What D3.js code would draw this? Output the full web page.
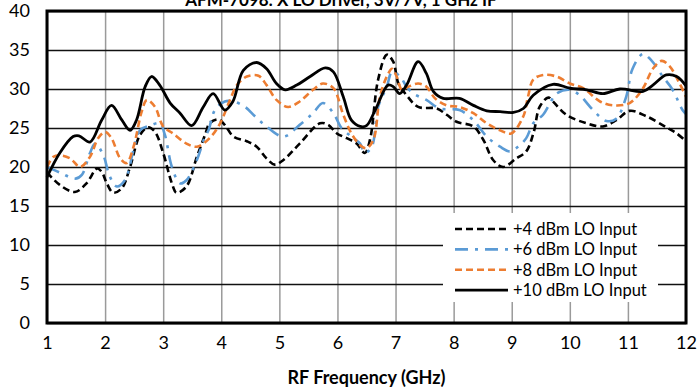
<!DOCTYPE html>
<html>
<head>
<meta charset="utf-8">
<script src="https://cdn.jsdelivr.net/npm/d3@7"></script>
<style>
  body { margin: 0; background: #fff; }
  svg { display: block; font-family: Lato, 'Open Sans', sans-serif; }
</style>
</head>
<body>
<div id="chart"></div>
<script>
// chart data
var title = 'AFM-7098: X LO Driver, 3V/7V, 1 GHz IF';
var xLabel = 'RF Frequency (GHz)';
var xTicks = [1, 2, 3, 4, 5, 6, 7, 8, 9, 10, 11, 12];
var yTicks = [0, 5, 10, 15, 20, 25, 30, 35, 40];

var freq4 = [1.0, 1.22, 1.48, 1.68, 1.86, 1.94, 2.03, 2.14, 2.29, 2.43, 2.6, 2.74, 2.86, 3.0, 3.15, 3.23, 3.4, 3.58, 3.72, 3.8, 3.95, 4.06, 4.21, 4.44, 4.61, 4.78, 4.92, 5.07, 5.35, 5.7, 5.84, 5.99, 6.16, 6.33, 6.47, 6.56, 6.7, 6.85, 6.96, 7.05, 7.19, 7.39, 7.71, 7.88, 8.05, 8.34, 8.51, 8.68, 8.85, 9.08, 9.25, 9.38, 9.48, 9.63, 9.71, 9.94, 10.29, 10.57, 10.8, 11.03, 11.32, 11.66, 11.84, 12.0];
var gain4 = [19.3, 17.7, 16.8, 17.9, 19.8, 19.4, 17.9, 16.7, 17.3, 20.0, 24.1, 25.1, 24.5, 21.8, 17.9, 16.7, 17.5, 21.3, 24.1, 25.6, 26.1, 25.4, 23.9, 23.3, 22.6, 21.1, 20.3, 20.9, 23.0, 25.6, 25.4, 24.3, 23.7, 23.0, 21.8, 23.5, 31.2, 34.4, 33.5, 30.7, 29.2, 27.7, 27.5, 26.7, 25.8, 25.2, 23.5, 20.9, 20.0, 21.1, 22.0, 24.5, 27.7, 28.9, 28.4, 26.7, 25.6, 25.2, 26.0, 27.2, 26.5, 25.1, 24.3, 23.3];

var freq6 = [1.0, 1.25, 1.48, 1.6, 1.74, 1.83, 1.97, 2.08, 2.2, 2.34, 2.49, 2.6, 2.77, 2.94, 3.03, 3.15, 3.29, 3.4, 3.58, 3.72, 3.78, 3.89, 4.06, 4.21, 4.41, 4.58, 4.78, 5.07, 5.35, 5.58, 5.75, 5.93, 6.07, 6.24, 6.39, 6.47, 6.59, 6.7, 6.85, 6.94, 7.08, 7.19, 7.31, 7.53, 7.76, 8.1, 8.34, 8.57, 8.8, 8.97, 9.11, 9.25, 9.37, 9.54, 9.66, 9.77, 10.0, 10.17, 10.4, 10.63, 10.8, 10.97, 11.08, 11.26, 11.4, 11.6, 11.77, 11.94, 12.0];
var gain6 = [20.0, 19.2, 18.5, 19.0, 21.8, 23.0, 21.5, 18.8, 17.5, 18.3, 22.2, 24.7, 25.3, 25.6, 24.1, 20.0, 17.9, 18.3, 20.9, 23.9, 24.7, 27.3, 28.4, 28.4, 27.7, 26.5, 25.2, 23.9, 25.4, 26.9, 28.2, 26.9, 25.0, 23.9, 23.0, 21.8, 22.6, 27.7, 30.3, 32.2, 31.6, 30.3, 29.4, 28.6, 27.5, 27.3, 26.0, 23.9, 22.6, 22.0, 22.6, 23.7, 25.6, 26.7, 28.2, 29.4, 29.9, 29.2, 27.3, 25.9, 26.2, 29.0, 32.6, 34.5, 33.7, 31.6, 29.9, 27.3, 26.8];

var freq8 = [1.0, 1.11, 1.22, 1.4, 1.57, 1.74, 1.88, 2.0, 2.11, 2.26, 2.37, 2.49, 2.63, 2.72, 2.86, 3.0, 3.17, 3.4, 3.58, 3.8, 3.98, 4.15, 4.27, 4.44, 4.64, 4.78, 4.95, 5.15, 5.35, 5.58, 5.75, 5.93, 6.1, 6.24, 6.39, 6.5, 6.62, 6.73, 6.85, 6.94, 7.02, 7.11, 7.22, 7.39, 7.53, 7.68, 7.88, 8.1, 8.34, 8.57, 8.8, 8.99, 9.2, 9.28, 9.37, 9.54, 9.77, 10.0, 10.23, 10.52, 10.75, 11.03, 11.26, 11.43, 11.58, 11.72, 11.89, 12.0];
var gain8 = [20.0, 21.3, 21.5, 21.1, 20.0, 21.3, 23.7, 24.5, 23.7, 21.1, 20.5, 22.6, 27.1, 28.6, 27.7, 25.2, 24.3, 23.0, 22.6, 23.7, 25.6, 28.6, 30.5, 31.6, 31.7, 30.5, 28.6, 27.7, 28.4, 29.9, 30.7, 30.1, 26.7, 24.3, 22.8, 22.4, 23.5, 29.0, 31.6, 32.6, 31.6, 29.9, 30.3, 30.7, 30.3, 28.8, 27.9, 27.7, 26.9, 25.6, 24.7, 24.3, 26.5, 29.0, 31.2, 31.8, 31.6, 30.7, 30.1, 28.4, 27.9, 28.2, 30.1, 32.6, 33.6, 32.9, 30.7, 29.0];

var freq10 = [1.0, 1.22, 1.45, 1.55, 1.74, 1.94, 2.11, 2.29, 2.43, 2.54, 2.69, 2.8, 2.94, 3.12, 3.29, 3.49, 3.69, 3.86, 4.06, 4.2, 4.38, 4.61, 4.78, 4.95, 5.1, 5.3, 5.53, 5.79, 5.93, 6.1, 6.24, 6.39, 6.5, 6.65, 6.87, 6.96, 7.07, 7.19, 7.39, 7.53, 7.65, 7.82, 8.1, 8.34, 8.57, 8.8, 9.03, 9.2, 9.37, 9.71, 10.0, 10.29, 10.57, 10.86, 11.26, 11.43, 11.66, 11.84, 12.0];
var gain10 = [18.7, 21.8, 23.9, 24.0, 23.2, 26.0, 27.9, 26.0, 24.7, 26.0, 30.3, 31.6, 30.5, 28.2, 26.9, 25.3, 27.7, 29.4, 27.3, 28.4, 32.4, 33.4, 32.6, 30.7, 29.9, 30.5, 31.6, 32.7, 32.2, 29.0, 26.0, 25.2, 25.3, 27.3, 30.5, 30.3, 29.4, 30.5, 33.5, 32.0, 29.7, 28.8, 28.8, 27.9, 27.2, 27.1, 27.0, 27.5, 29.2, 30.6, 30.1, 29.9, 29.4, 30.0, 29.7, 30.5, 31.8, 31.6, 30.4];

var seriesNames = ['+4 dBm LO Input', '+6 dBm LO Input', '+8 dBm LO Input', '+10 dBm LO Input'];
var seriesFreqs = [freq4, freq6, freq8, freq10];
var seriesGains = [gain4, gain6, gain8, gain10];
var seriesColors = ['#000000', '#5b9bd5', '#ed7d31', '#000000'];
var seriesDash = ['7,4', '13,7,3,7', '7,4', null];

var W = 698, H = 391;
var margin = { top: 11, right: 12, bottom: 68, left: 47 };
var width = W - margin.left - margin.right,
  height = H - margin.top - margin.bottom;

var svg = d3.select('#chart').append('svg')
  .attr('width', W)
  .attr('height', H);

var g = svg.append('g')
  .attr('transform', 'translate(' + margin.left + ',' + margin.top + ')');

var x = d3.scaleLinear().domain([1, 12]).range([0, width]);
var y = d3.scaleLinear().domain([0, 40]).range([height, 0]);

// vertical gridlines (gray)
g.append('g')
  .attr('class', 'xgrid')
  .call(d3.axisBottom(x).tickValues(xTicks).tickSize(height).tickFormat(''))
  .call(function (s) {
    s.select('.domain').remove();
    s.selectAll('line').attr('stroke', '#9a9a9a').attr('stroke-width', 1.5);
  });

// horizontal gridlines (dark)
g.append('g')
  .attr('class', 'ygrid')
  .call(d3.axisLeft(y).tickValues(yTicks).tickSize(-width).tickFormat(''))
  .call(function (s) {
    s.select('.domain').remove();
    s.selectAll('line').attr('stroke', '#111').attr('stroke-width', 1.4);
  });

// legend backing hides grid behind it
var legendX = 396, legendY = 202;
g.append('rect')
  .attr('x', legendX)
  .attr('y', legendY)
  .attr('width', 215)
  .attr('height', 89)
  .attr('fill', '#fff');

// series lines
var line = d3.line()
  .curve(d3.curveCatmullRom.alpha(0.5))
  .x(function (d) { return x(d[0]); })
  .y(function (d) { return y(d[1]); });

seriesNames.forEach(function (name, i) {
  var pts = seriesFreqs[i].map(function (f, j) { return [f, seriesGains[i][j]]; });
  g.append('path')
    .datum(pts)
    .attr('d', line)
    .attr('fill', 'none')
    .attr('stroke', seriesColors[i])
    .attr('stroke-width', i == 3 ? 2.8 : 2.6)
    .attr('stroke-dasharray', seriesDash[i])
    .attr('stroke-linejoin', 'round');
});

// frame
g.append('rect')
  .attr('x', 0).attr('y', 0)
  .attr('width', width).attr('height', height)
  .attr('fill', 'none')
  .attr('stroke', '#000')
  .attr('stroke-width', 3);

// tick labels
var xAxis = g.append('g')
  .attr('transform', 'translate(0,' + height + ')')
  .call(d3.axisBottom(x).tickValues(xTicks).tickSize(0).tickPadding(13).tickFormat(d3.format('d')));
xAxis.select('.domain').remove();
xAxis.selectAll('text').attr('font-size', '18px').attr('font-family', 'Lato').attr('fill', '#000');

var yAxis = g.append('g')
  .call(d3.axisLeft(y).tickValues(yTicks).tickSize(0).tickPadding(17).tickFormat(d3.format('d')));
yAxis.select('.domain').remove();
yAxis.selectAll('text').attr('font-size', '18px').attr('font-family', 'Lato').attr('fill', '#000');

// axis title
svg.append('text')
  .attr('x', margin.left + width / 2)
  .attr('y', 384)
  .attr('text-anchor', 'middle')
  .attr('font-size', '18px')
  .attr('font-weight', 'bold')
  .text(xLabel);

// chart title, partly off the top edge as in the reference
svg.append('text')
  .attr('x', 341)
  .attr('y', 6)
  .attr('text-anchor', 'middle')
  .attr('font-size', '17px')
  .attr('font-weight', 'bold')
  .text(title);

// legend
var legend = g.append('g')
  .attr('transform', 'translate(' + (legendX + 12) + ',' + (legendY + 16) + ')');

seriesNames.forEach(function (name, i) {
  var row = legend.append('g').attr('transform', 'translate(0,' + (i * 20.4) + ')');
  row.append('line')
    .attr('x1', 0).attr('x2', 53)
    .attr('y1', 0).attr('y2', 0)
    .attr('stroke', seriesColors[i])
    .attr('stroke-width', i == 3 ? 2.8 : 2.6)
    .attr('stroke-dasharray', seriesDash[i]);
  row.append('text')
    .attr('x', 58)
    .attr('y', 0)
    .attr('dy', '0.35em')
    .attr('font-size', '16.5px')
    .text(name);
});
</script>
</body>
</html>
